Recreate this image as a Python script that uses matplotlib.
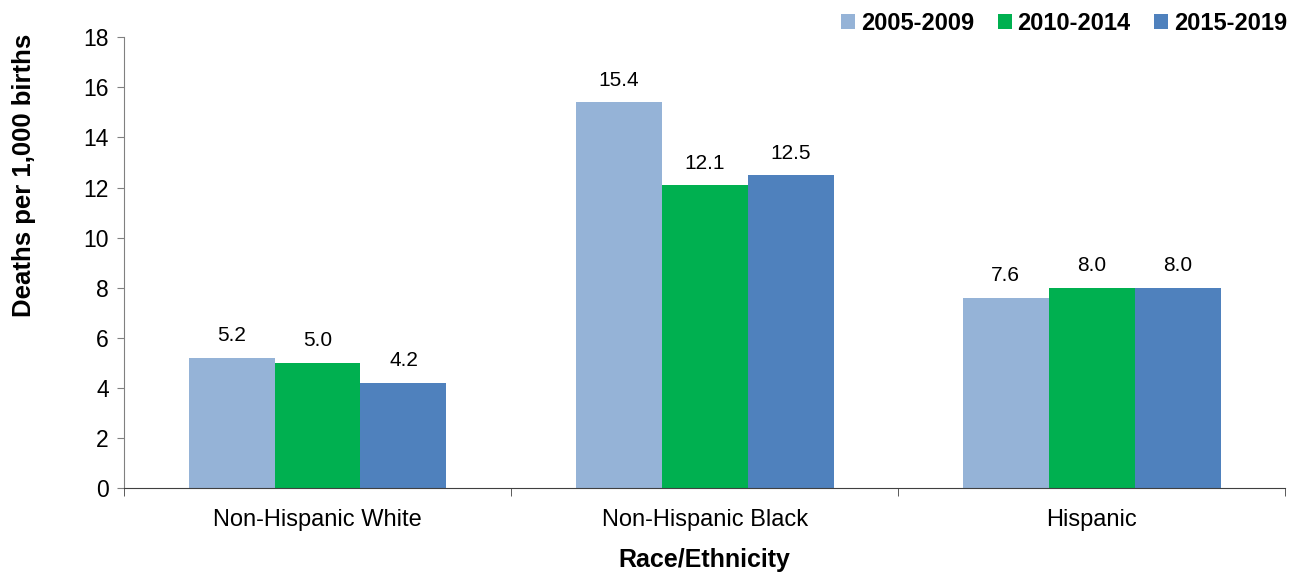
import matplotlib

matplotlib.use("Agg")

import matplotlib.pyplot as plt
import numpy as np

plt.rcParams["font.family"] = ["Liberation Sans", "DejaVu Sans"]

groups = ["Non-Hispanic White", "Non-Hispanic Black", "Hispanic"]
periods = ["2005-2009", "2010-2014", "2015-2019"]
rates_2005_2009 = [5.2, 15.4, 7.6]
rates_2010_2014 = [5.0, 12.1, 8.0]
rates_2015_2019 = [4.2, 12.5, 8.0]
colors = ["#95B3D7", "#00B050", "#4F81BD"]

series = [rates_2005_2009, rates_2010_2014, rates_2015_2019]

fig = plt.figure(figsize=(13.02, 5.73), dpi=100)
ax = fig.add_axes([0.0952, 0.148, 0.892, 0.787])

x = np.arange(len(groups))
width = 0.222
for i, (label, vals, color) in enumerate(zip(periods, series, colors)):
    pos = x + (i - 1) * width
    ax.bar(pos, vals, width=width, color=color, label=label)
    for px, v in zip(pos, vals):
        ax.text(px, v + 0.5, f"{v:.1f}", ha="center", va="bottom", fontsize=15)

ax.set_xlim(-0.5, len(groups) - 0.5)
ax.set_ylim(0, 18)
ax.set_yticks(np.arange(0, 19, 2))
ax.tick_params(axis="y", labelsize=16.5, length=5, direction="out", color="#808080", pad=6)
ax.set_xticks(x)
ax.set_xticklabels(groups, fontsize=17)
ax.tick_params(axis="x", length=0, pad=15)
ax.set_xticks(np.arange(-0.5, len(groups), 1.0), minor=True)
ax.tick_params(axis="x", which="minor", length=6, color="#404040")

for side in ("top", "right"):
    ax.spines[side].set_visible(False)
ax.spines["left"].set_color("#808080")
ax.spines["bottom"].set_color("#404040")

ax.set_ylabel("Deaths per 1,000 births", fontsize=18.5, fontweight="bold")
ax.yaxis.set_label_coords(-0.076, 0.694)
ax.set_xlabel("Race/Ethnicity", fontsize=18, fontweight="bold", labelpad=12)

ax.legend(
    loc="lower right",
    bbox_to_anchor=(1.01, 0.985),
    ncol=3,
    frameon=False,
    prop={"weight": "bold", "size": 17},
    handlelength=0.6,
    handleheight=0.6,
    handletextpad=0.25,
    columnspacing=1.0,
    borderaxespad=0,
)

fig.savefig("out.png", dpi=100)
